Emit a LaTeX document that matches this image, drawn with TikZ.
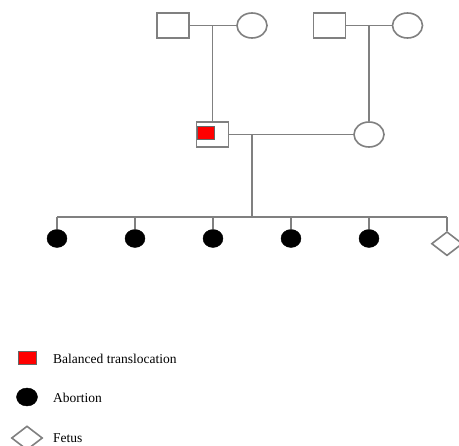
\documentclass[tikz,border=0pt]{standalone}
\usepackage{fontspec}
\setmainfont{Liberation Serif}
\usetikzlibrary{shapes.geometric}
\tikzset{
	line/.style={line width=1.6pt, color=black!50},
	male/.style={line, draw, rectangle, inner sep=0pt, minimum width=32pt, minimum height=25pt},
	female/.style={line, draw, ellipse, inner sep=0pt, minimum width=30pt, minimum height=25pt},
	abort/.style={ellipse, fill=black, draw=black, inner sep=0pt, minimum width=20pt, minimum height=18pt},
	fetus/.style={line, draw, diamond, inner sep=0pt, minimum width=31pt, minimum height=24pt},
	carrier/.style={rectangle, fill=red, draw=black!60, line width=0.6pt, inner sep=0pt, minimum width=17pt, minimum height=13pt},
	legtext/.style={anchor=west, inner sep=0pt, font=\fontsize{13.5}{16}\selectfont}
}

\begin{document}
\begin{tikzpicture}[x=1pt, y=-1pt]
		%%%%% START %%%%%
		\useasboundingbox[fill=white] (0, 0) rectangle (459, 446);
		
		% grandparents
		\node[male] (gf1) at (173, 25.5) {};
		\node[female] (gm1) at (252, 25.5) {};
		\node[male] (gf2) at (329.5, 25.5) {};
		\node[female] (gm2) at (407.5, 25.5) {};
		
		% parents
		\node[male] (fa) at (212.5, 134.5) {};
		\node[carrier] (fax) at (205.5, 132.5) {};
		\node[female] (mo) at (369, 134.5) {};
		
		\draw[line] (gf1) -- (gm1);
		\draw[line] (gf2) -- (gm2);
		\draw[line] (fa.north) -- (fa.north |- gf1);
		\draw[line] (mo.north) -- (mo.north |- gf2);
		\draw[line] (fa) -- (mo);
		
		% children
		\foreach \i/\x in {1/57, 2/135, 3/213, 4/291, 5/369}
			\node[abort] (c\i) at (\x, 238.5) {};
		\node[fetus] (c6) at (447, 243.7) {};
		
		\coordinate (sib) at (252, 217);
		\draw[line] (fa.east -| sib) -- (sib);
		\draw[line] (c1.north |- sib) -- (c6.north |- sib);
		\foreach \i in {1,...,6}
			\draw[line] (c\i.north) -- (c\i.north |- sib);
		
		% legend
		\node[carrier, minimum width=18pt] (k1) at (27, 358.3) {};
		\node[legtext] (t1) at (53, 359) {Balanced translocation};
		\node[abort, minimum width=21pt] (k2) at (27, 397) {};
		\node[legtext] (t2) at (53, 398) {Abortion};
		\node[fetus] (k3) at (27, 438) {};
		\node[legtext] (t3) at (53, 438) {Fetus};
		
		%%%%% END %%%%%
\end{tikzpicture}
\end{document}
